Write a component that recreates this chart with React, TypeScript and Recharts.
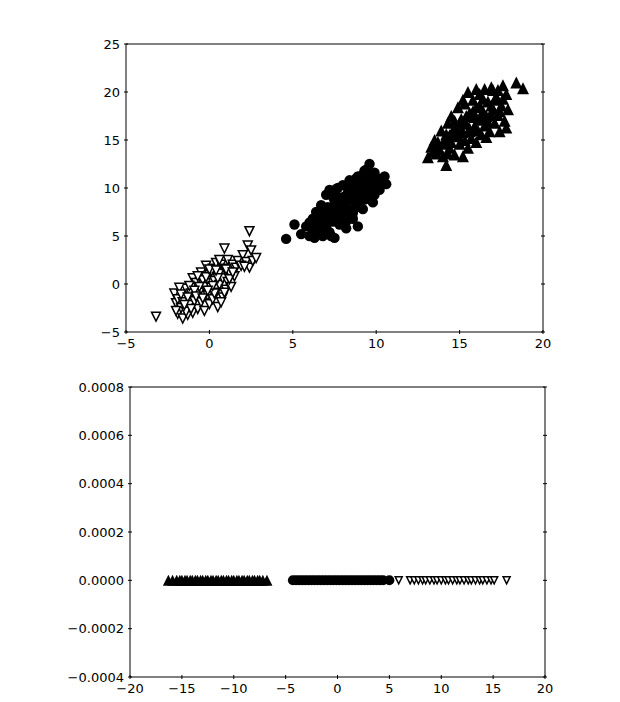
import React from 'react';
import { ScatterChart, Scatter, XAxis, YAxis } from 'recharts';

// top panel: raw 2-D points, three classes
const downPoints = [
  { x: -3.2, y: -3.4 }, { x: -2.1, y: -1.0 }, { x: -2.0, y: -2.0 }, { x: -1.9, y: -3.1 },
  { x: -1.7, y: -2.5 }, { x: -1.6, y: -3.6 }, { x: -1.5, y: -1.5 }, { x: -1.4, y: -0.5 },
  { x: -1.3, y: -3.2 }, { x: -1.2, y: -2.2 }, { x: -1.1, y: -1.0 }, { x: -1.0, y: 0.6 },
  { x: -1.0, y: -3.0 }, { x: -0.9, y: -1.8 }, { x: -0.8, y: 0.1 }, { x: -0.7, y: -2.6 },
  { x: -0.6, y: -0.9 }, { x: -0.5, y: 1.2 }, { x: -0.5, y: -1.9 }, { x: -0.4, y: 0.4 },
  { x: -0.3, y: -2.8 }, { x: -0.3, y: -0.3 }, { x: -0.2, y: 1.9 }, { x: -0.1, y: -1.2 },
  { x: 0.0, y: 0.9 }, { x: 0.0, y: -2.1 }, { x: 0.1, y: -0.4 }, { x: 0.2, y: 1.6 },
  { x: 0.2, y: -1.6 }, { x: 0.3, y: 0.3 }, { x: 0.4, y: 2.2 }, { x: 0.4, y: -0.9 },
  { x: 0.5, y: -2.4 }, { x: 0.6, y: 1.1 }, { x: 0.6, y: -0.1 }, { x: 0.7, y: 2.0 },
  { x: 0.8, y: -1.4 }, { x: 0.8, y: 0.6 }, { x: 0.9, y: 3.7 }, { x: 0.9, y: 1.6 },
  { x: 1.0, y: -0.6 }, { x: 1.1, y: 2.5 }, { x: 1.1, y: 0.2 }, { x: 1.2, y: 1.2 },
  { x: 1.3, y: -0.3 }, { x: 1.4, y: 2.0 }, { x: 1.5, y: 0.8 }, { x: 1.6, y: 1.7 },
  { x: 1.7, y: 2.4 }, { x: 2.0, y: 3.0 }, { x: 2.2, y: 2.3 }, { x: 2.3, y: 4.0 },
  { x: 2.4, y: 5.5 }, { x: 2.4, y: 1.7 }, { x: 2.5, y: 3.5 }, { x: 2.6, y: 2.4 },
  { x: 2.8, y: 2.7 }, { x: -1.8, y: -0.4 }, { x: -1.9, y: -1.6 }, { x: -1.2, y: -0.2 },
  { x: -0.6, y: -0.3 }, { x: 0.3, y: -1.0 }, { x: 0.7, y: -1.9 }, { x: -1.4, y: -2.9 },
  { x: -0.9, y: -0.7 }, { x: 0.1, y: 1.3 }, { x: 1.9, y: 1.9 }, { x: -2.0, y: -2.8 },
  { x: -1.6, y: -1.9 }, { x: -0.8, y: -1.3 }, { x: -0.2, y: 0.7 }, { x: 0.5, y: 0.6 },
  { x: 1.0, y: 1.5 }, { x: 0.2, y: -0.2 }, { x: -1.1, y: -2.6 }, { x: -0.4, y: -1.5 },
  { x: -1.7, y: -1.1 }, { x: -1.3, y: -1.4 }, { x: -0.7, y: 0.8 }, { x: 0.0, y: 1.5 },
  { x: 0.6, y: 2.5 }, { x: 1.2, y: 0.5 }, { x: -0.1, y: -0.7 }, { x: 0.9, y: -0.9 },
  { x: 1.4, y: 1.2 }, { x: -1.5, y: -2.2 }, { x: 0.4, y: 1.4 }, { x: 2.1, y: 1.8 },
];

const circlePoints = [
  { x: 4.6, y: 4.7 }, { x: 5.1, y: 6.2 }, { x: 5.5, y: 5.2 }, { x: 5.8, y: 6.0 },
  { x: 6.0, y: 5.0 }, { x: 6.2, y: 6.8 }, { x: 6.3, y: 4.8 }, { x: 6.4, y: 7.5 },
  { x: 6.5, y: 5.6 }, { x: 6.6, y: 6.3 }, { x: 6.7, y: 8.2 }, { x: 6.8, y: 5.0 },
  { x: 6.9, y: 7.0 }, { x: 7.0, y: 9.3 }, { x: 7.0, y: 6.0 }, { x: 7.1, y: 8.0 },
  { x: 7.2, y: 5.4 }, { x: 7.2, y: 9.8 }, { x: 7.3, y: 7.3 }, { x: 7.4, y: 6.5 },
  { x: 7.5, y: 8.7 }, { x: 7.5, y: 4.8 }, { x: 7.6, y: 9.9 }, { x: 7.7, y: 7.8 },
  { x: 7.8, y: 6.2 }, { x: 7.9, y: 9.0 }, { x: 8.0, y: 7.0 }, { x: 8.0, y: 10.3 },
  { x: 8.1, y: 8.3 }, { x: 8.2, y: 5.8 }, { x: 8.3, y: 9.5 }, { x: 8.3, y: 7.5 },
  { x: 8.4, y: 10.8 }, { x: 8.5, y: 8.8 }, { x: 8.6, y: 6.8 }, { x: 8.7, y: 9.9 },
  { x: 8.8, y: 8.0 }, { x: 8.9, y: 11.2 }, { x: 8.9, y: 6.0 }, { x: 9.0, y: 9.4 },
  { x: 9.1, y: 10.5 }, { x: 9.2, y: 7.8 }, { x: 9.3, y: 11.8 }, { x: 9.3, y: 8.8 },
  { x: 9.4, y: 10.0 }, { x: 9.5, y: 9.2 }, { x: 9.6, y: 12.5 }, { x: 9.6, y: 11.0 },
  { x: 9.7, y: 10.4 }, { x: 9.8, y: 8.5 }, { x: 9.9, y: 11.6 }, { x: 10.0, y: 10.0 },
  { x: 10.1, y: 11.0 }, { x: 10.2, y: 9.8 }, { x: 10.4, y: 10.8 }, { x: 10.6, y: 10.4 },
  { x: 7.6, y: 8.4 }, { x: 8.1, y: 9.1 }, { x: 6.9, y: 7.6 }, { x: 7.3, y: 5.0 },
  { x: 8.6, y: 7.4 }, { x: 9.1, y: 9.7 }, { x: 7.9, y: 7.4 }, { x: 6.4, y: 5.2 },
  { x: 7.7, y: 10.0 }, { x: 9.4, y: 11.9 }, { x: 8.4, y: 9.2 }, { x: 7.0, y: 6.8 },
  { x: 9.9, y: 9.3 }, { x: 8.8, y: 11.0 }, { x: 10.3, y: 10.3 }, { x: 6.1, y: 5.9 },
  { x: 6.6, y: 7.0 }, { x: 6.8, y: 5.8 }, { x: 7.1, y: 6.6 }, { x: 7.4, y: 7.9 },
  { x: 7.6, y: 6.9 }, { x: 7.8, y: 8.9 }, { x: 8.0, y: 7.9 }, { x: 8.2, y: 6.5 },
  { x: 8.5, y: 7.8 }, { x: 8.7, y: 9.2 }, { x: 8.9, y: 10.1 }, { x: 9.0, y: 8.5 },
  { x: 9.2, y: 9.0 }, { x: 9.5, y: 10.6 }, { x: 9.7, y: 9.6 }, { x: 10.0, y: 10.9 },
  { x: 9.2, y: 11.4 }, { x: 8.5, y: 10.2 }, { x: 7.4, y: 9.1 }, { x: 6.7, y: 6.8 },
  { x: 8.1, y: 6.2 }, { x: 9.6, y: 8.9 }, { x: 10.5, y: 11.2 }, { x: 6.0, y: 6.4 },
];

const upPoints = [
  { x: 13.1, y: 13.2 }, { x: 13.3, y: 14.3 }, { x: 13.5, y: 15.0 }, { x: 13.6, y: 13.6 },
  { x: 13.8, y: 14.0 }, { x: 13.9, y: 16.0 }, { x: 14.0, y: 13.3 }, { x: 14.1, y: 15.0 },
  { x: 14.2, y: 12.4 }, { x: 14.3, y: 16.8 }, { x: 14.4, y: 14.2 }, { x: 14.5, y: 17.5 },
  { x: 14.6, y: 15.4 }, { x: 14.7, y: 13.5 }, { x: 14.8, y: 16.2 }, { x: 14.9, y: 18.4 },
  { x: 15.0, y: 14.6 }, { x: 15.1, y: 17.2 }, { x: 15.2, y: 13.3 }, { x: 15.2, y: 15.8 },
  { x: 15.3, y: 18.8 }, { x: 15.4, y: 16.7 }, { x: 15.5, y: 20.0 }, { x: 15.5, y: 14.2 },
  { x: 15.6, y: 17.8 }, { x: 15.7, y: 15.2 }, { x: 15.8, y: 19.2 }, { x: 15.9, y: 16.4 },
  { x: 16.0, y: 18.4 }, { x: 16.0, y: 14.8 }, { x: 16.1, y: 17.1 }, { x: 16.2, y: 19.8 },
  { x: 16.3, y: 15.6 }, { x: 16.4, y: 18.0 }, { x: 16.5, y: 20.3 }, { x: 16.5, y: 16.5 },
  { x: 16.6, y: 17.5 }, { x: 16.7, y: 19.0 }, { x: 16.8, y: 15.9 }, { x: 16.9, y: 20.5 },
  { x: 17.0, y: 18.2 }, { x: 17.1, y: 16.8 }, { x: 17.2, y: 19.5 }, { x: 17.3, y: 17.6 },
  { x: 17.4, y: 15.9 }, { x: 17.5, y: 18.6 }, { x: 17.6, y: 20.7 }, { x: 17.7, y: 17.0 },
  { x: 17.8, y: 19.8 }, { x: 17.8, y: 16.3 }, { x: 18.4, y: 21.0 }, { x: 18.8, y: 20.4 },
  { x: 14.0, y: 14.6 }, { x: 14.6, y: 16.0 }, { x: 15.0, y: 16.8 }, { x: 15.8, y: 18.0 },
  { x: 16.3, y: 17.3 }, { x: 16.9, y: 18.6 }, { x: 17.3, y: 20.2 }, { x: 15.3, y: 15.0 },
  { x: 14.3, y: 13.6 }, { x: 16.6, y: 15.3 }, { x: 13.4, y: 13.8 }, { x: 13.7, y: 14.8 },
  { x: 14.2, y: 15.6 }, { x: 14.5, y: 14.8 }, { x: 14.9, y: 15.5 }, { x: 15.1, y: 16.0 },
  { x: 15.4, y: 17.5 }, { x: 15.6, y: 16.2 }, { x: 15.9, y: 17.4 }, { x: 16.1, y: 16.0 },
  { x: 16.2, y: 18.6 }, { x: 16.4, y: 19.3 }, { x: 16.7, y: 16.9 }, { x: 16.9, y: 17.6 },
  { x: 17.1, y: 19.2 }, { x: 17.4, y: 18.0 }, { x: 17.6, y: 19.3 }, { x: 17.9, y: 18.2 },
  { x: 15.2, y: 19.2 }, { x: 14.7, y: 17.0 }, { x: 16.0, y: 20.3 }, { x: 17.0, y: 20.2 },
  { x: 15.6, y: 15.9 }, { x: 14.4, y: 15.5 }, { x: 13.6, y: 14.3 },
];

// bottom panel: 1-D projection, all on y = 0
const upProj = [
  -16.3, -15.9, -15.5, -15.2, -15.0, -14.7, -14.5, -14.2, -14.0, -13.7, -13.5, -13.2,
  -13.0, -12.7, -12.5, -12.2, -12.0, -11.7, -11.5, -11.2, -11.0, -10.7, -10.5, -10.2,
  -10.0, -9.7, -9.5, -9.2, -9.0, -8.7, -8.5, -8.2, -8.0, -7.7, -7.5, -7.2, -6.8,
];
const circleProj = [
  -4.3, -4.0, -3.7, -3.4, -3.1, -2.8, -2.5, -2.2, -1.9, -1.6, -1.3, -1.0, -0.7, -0.4,
  -0.1, 0.2, 0.5, 0.8, 1.1, 1.4, 1.7, 2.0, 2.3, 2.6, 2.9, 3.2, 3.5, 3.8, 4.1, 4.4, 5.0,
];
const downProj = [
  5.9, 7.0, 7.4, 7.8, 8.2, 8.5, 8.9, 9.3, 9.6, 10.0, 10.4, 10.7, 11.1, 11.5, 11.8,
  12.2, 12.6, 12.9, 13.3, 13.7, 14.0, 14.4, 14.8, 15.1, 16.3,
];

const topXTicks = [-5, 0, 5, 10, 15, 20];
const topYTicks = [-5, 0, 5, 10, 15, 20, 25];
const botXTicks = [-20, -15, -10, -5, 0, 5, 10, 15, 20];
const botYTicks = [-0.0004, -0.0002, 0, 0.0002, 0.0004, 0.0006, 0.0008];

const FONT = { fontFamily: 'DejaVu Sans', fontSize: 13, fill: '#000' };
const minus = (s: string) => s.replace('-', '\u2212');

const upTri = (size: number) => (p: any) => {
  const h = size / 2;
  return <path d={`M${p.cx},${p.cy - h}L${p.cx + h},${p.cy + h}L${p.cx - h},${p.cy + h}Z`} fill="#000" />;
};
const downTri = (size: number) => (p: any) => {
  const h = size / 2;
  return (
    <path
      d={`M${p.cx - h},${p.cy - h}L${p.cx + h},${p.cy - h}L${p.cx},${p.cy + h}Z`}
      fill="#fff"
      stroke="#000"
      strokeWidth={1.5}
    />
  );
};
const dot = (r: number) => (p: any) => <circle cx={p.cx} cy={p.cy} r={r} fill="#000" />;

const bottomTick = (fmt: (v: number) => string) => (p: any) => (
  <g>
    <line x1={p.x} x2={p.x} y1={p.y} y2={p.y - 4} stroke="#000" />
    <text x={p.x} y={p.y + 4} dy="0.75em" textAnchor="middle" {...FONT}>
      {fmt(p.payload.value)}
    </text>
  </g>
);
const leftTick = (fmt: (v: number) => string) => (p: any) => (
  <g>
    <line x1={p.x} x2={p.x + 4} y1={p.y} y2={p.y} stroke="#000" />
    <text x={p.x - 4} y={p.y} dy="0.36em" textAnchor="end" {...FONT}>
      {fmt(p.payload.value)}
    </text>
  </g>
);
const topTick = (p: any) => <line x1={p.x} x2={p.x} y1={p.y} y2={p.y + 4} stroke="#000" />;
const rightTick = (p: any) => <line x1={p.x} x2={p.x - 4} y1={p.y} y2={p.y} stroke="#000" />;

const intFmt = (v: number) => minus(String(v));
const decFmt = (v: number) => minus(v.toFixed(4));

// axes are 1px thick (a 0px axis is not drawn), so margins are 1px smaller than the frame offsets
const Panel = ({ width, height, margin, xDomain, yDomain, xTicks, yTicks, yFmt, children }: any) => (
  <ScatterChart width={width} height={height} margin={margin}>
    <XAxis
      xAxisId="b" type="number" dataKey="x" domain={xDomain} ticks={xTicks}
      allowDataOverflow height={1} tickSize={0} tickLine={false}
      axisLine={{ stroke: '#000' }} tick={bottomTick(intFmt)} interval={0}
    />
    <XAxis
      xAxisId="t" orientation="top" type="number" domain={xDomain} ticks={xTicks}
      allowDataOverflow height={1} tickSize={0} tickLine={false}
      axisLine={{ stroke: '#000' }} tick={topTick} interval={0}
    />
    <YAxis
      yAxisId="l" type="number" dataKey="y" domain={yDomain} ticks={yTicks}
      allowDataOverflow width={1} tickSize={0} tickLine={false}
      axisLine={{ stroke: '#000' }} tick={leftTick(yFmt)} interval={0}
    />
    <YAxis
      yAxisId="r" orientation="right" type="number" domain={yDomain} ticks={yTicks}
      allowDataOverflow width={1} tickSize={0} tickLine={false}
      axisLine={{ stroke: '#000' }} tick={rightTick} interval={0}
    />
    {children}
  </ScatterChart>
);

export default function App() {
  const upLine = upProj.map((x) => ({ x, y: 0 }));
  const circleLine = circleProj.map((x) => ({ x, y: 0 }));
  const downLine = downProj.map((x) => ({ x, y: 0 }));

  return (
    <div style={{ position: 'absolute', left: 0, top: 0, width: 620, height: 702, background: '#fff' }}>
      <div style={{ position: 'absolute', left: 0, top: 0 }}>
        <Panel
          width={620} height={360}
          margin={{ top: 43, left: 125, right: 76, bottom: 27 }}
          xDomain={[-5, 20]} yDomain={[-5, 25]}
          xTicks={topXTicks} yTicks={topYTicks} yFmt={intFmt}
        >
          <Scatter xAxisId="b" yAxisId="l" data={downPoints} shape={downTri(9)} isAnimationActive={false} />
          <Scatter xAxisId="b" yAxisId="l" data={circlePoints} shape={dot(5.2)} isAnimationActive={false} />
          <Scatter xAxisId="b" yAxisId="l" data={upPoints} shape={upTri(12)} isAnimationActive={false} />
        </Panel>
      </div>
      <div style={{ position: 'absolute', left: 0, top: 360 }}>
        <Panel
          width={620} height={342}
          margin={{ top: 26, left: 129, right: 74, bottom: 24 }}
          xDomain={[-20, 20]} yDomain={[-0.0004, 0.0008]}
          xTicks={botXTicks} yTicks={botYTicks} yFmt={decFmt}
        >
          <Scatter xAxisId="b" yAxisId="l" data={upLine} shape={upTri(11)} isAnimationActive={false} />
          <Scatter xAxisId="b" yAxisId="l" data={circleLine} shape={dot(5)} isAnimationActive={false} />
          <Scatter xAxisId="b" yAxisId="l" data={downLine} shape={downTri(7)} isAnimationActive={false} />
        </Panel>
      </div>
    </div>
  );
}
